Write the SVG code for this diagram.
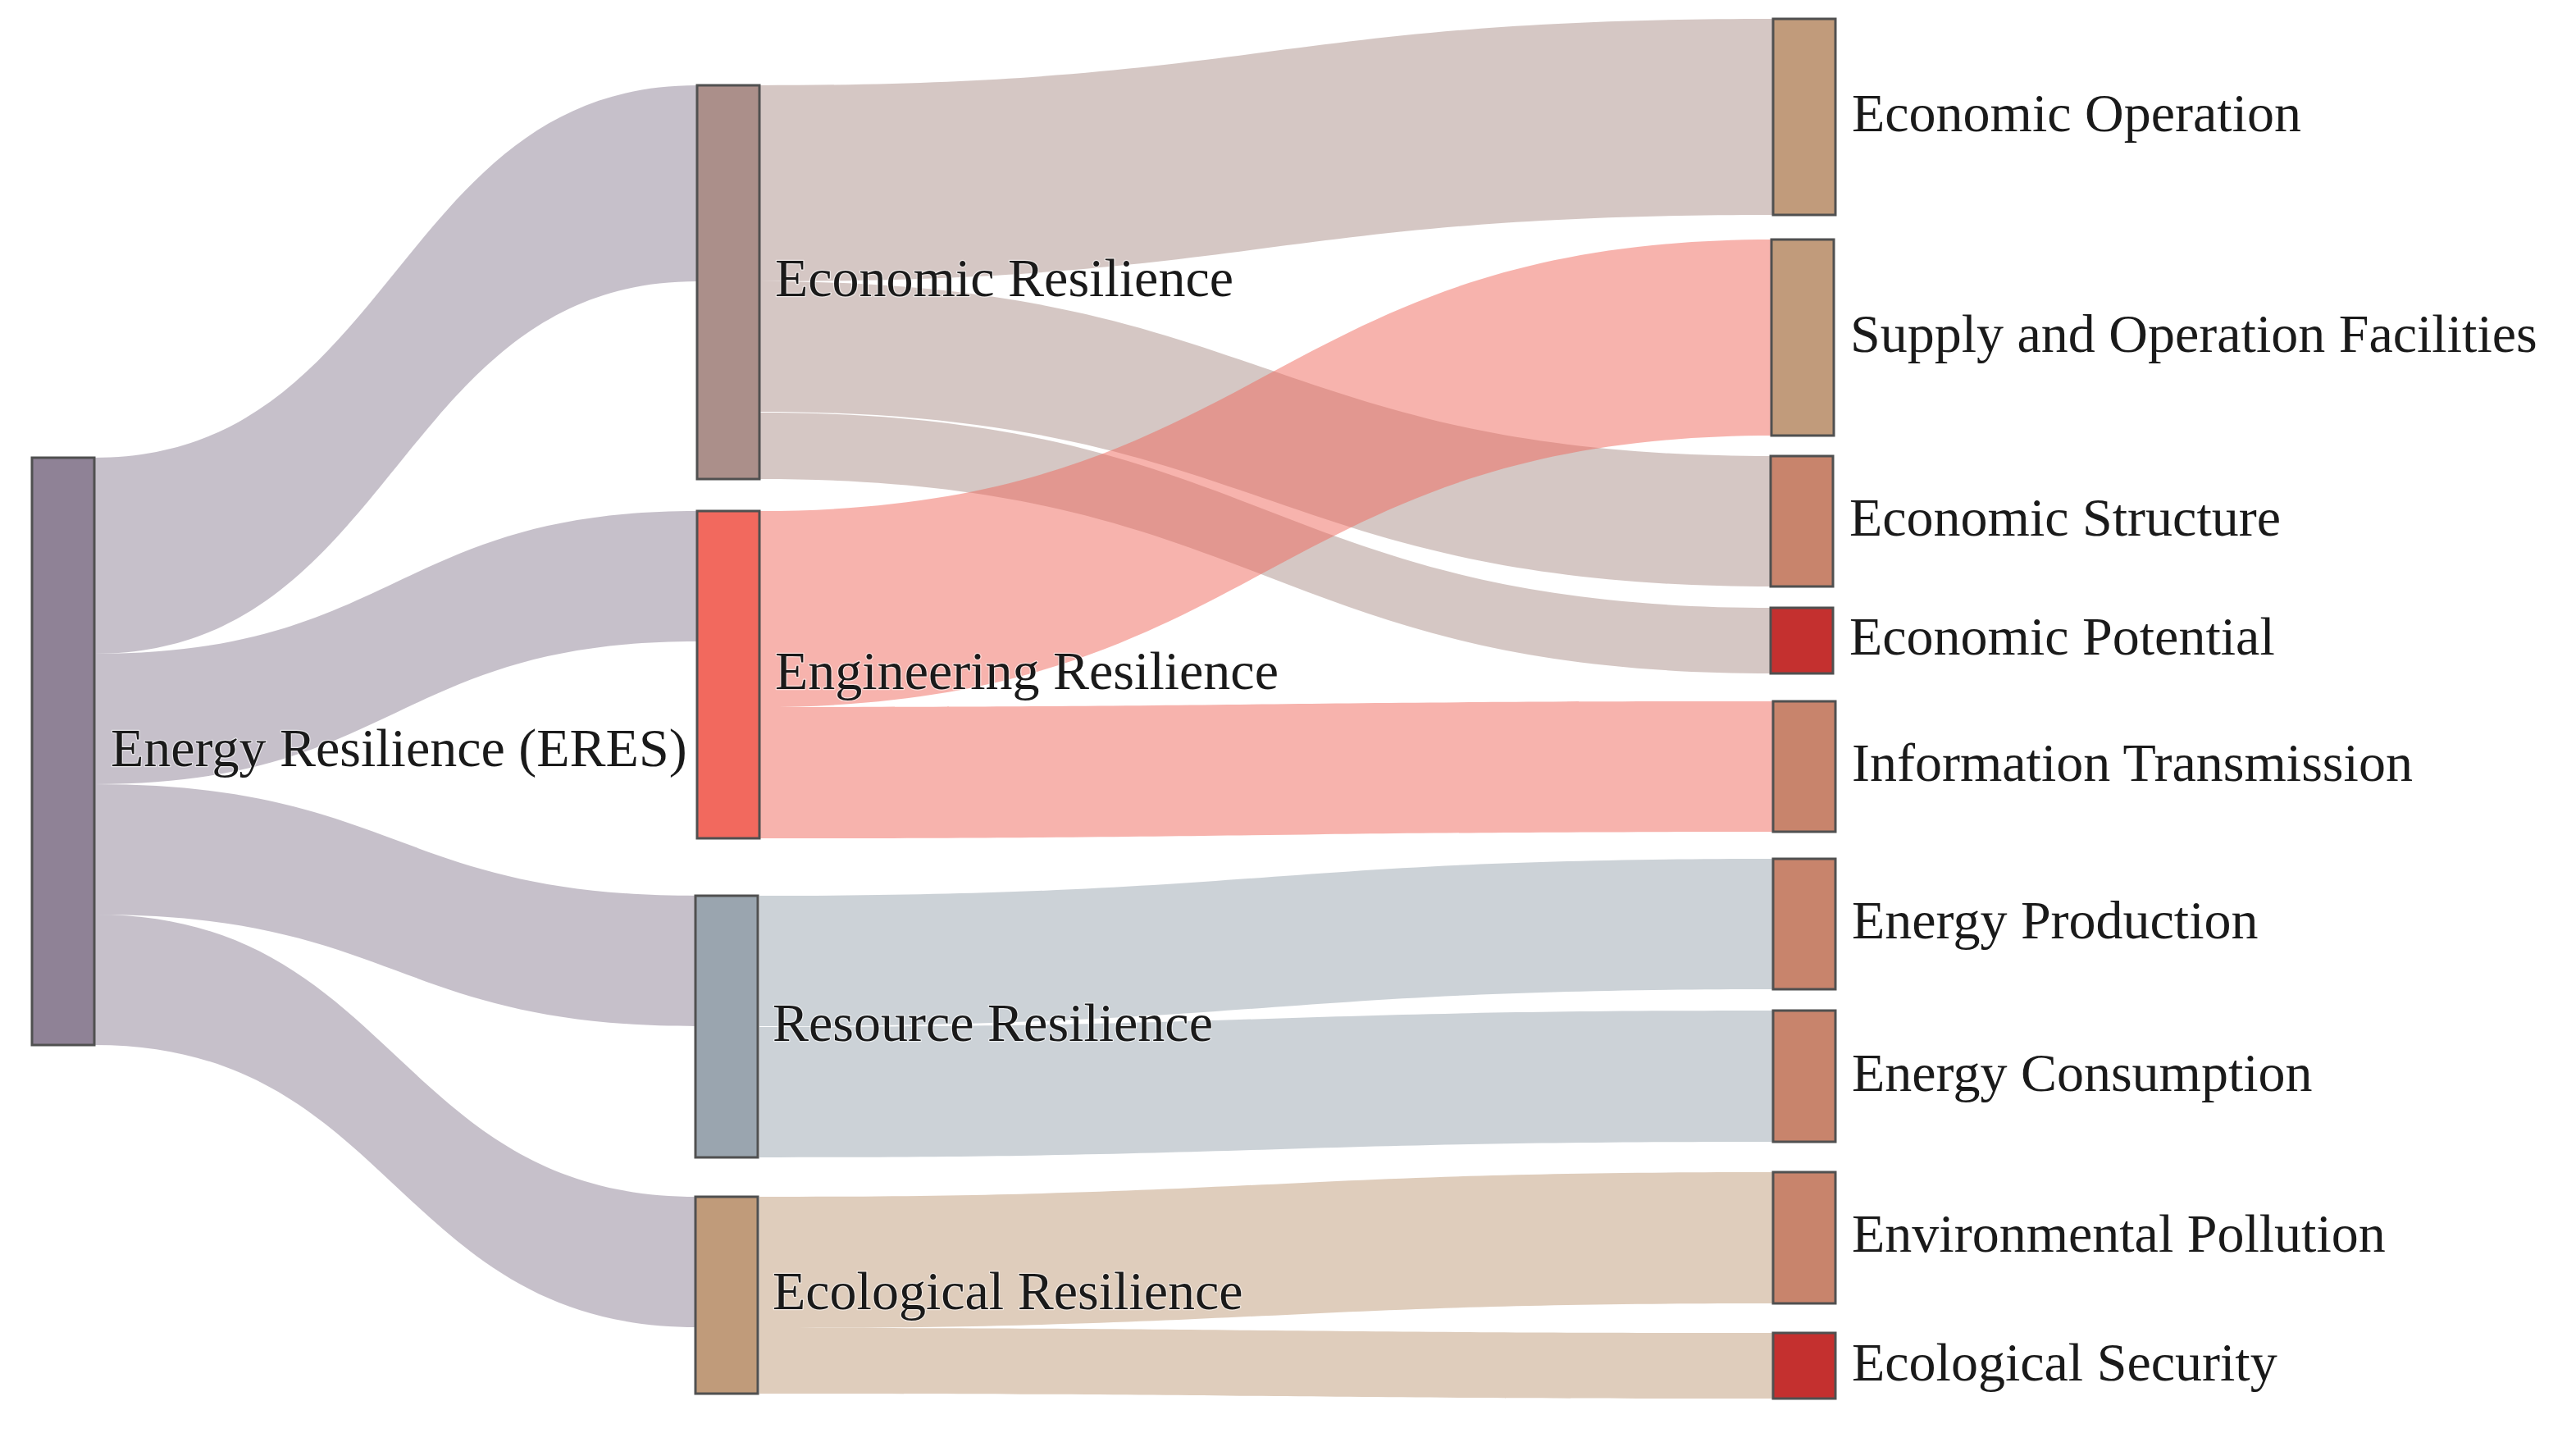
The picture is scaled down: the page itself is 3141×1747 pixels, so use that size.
<svg xmlns="http://www.w3.org/2000/svg" width="3141" height="1747" viewBox="0 0 3141 1747">
<style>
.node{stroke:#505050;stroke-width:3;}
.lk{fill-opacity:0.5;stroke:none;}
.lbl{font-family:"Liberation Serif","Times New Roman",serif;font-size:66px;fill:#1a1a1a;stroke:#ffffff;stroke-width:2.5;stroke-opacity:0.55;paint-order:stroke;stroke-linejoin:round;}
</style>
<rect width="3141" height="1747" fill="#ffffff"/>
<g id="connectors">
  <!-- ERES links -->
  <path class="lk" fill="#8e8295" d="M115,558 C482.5,558 482.5,104 850,104 L850,343 C482.5,343 482.5,797 115,797 Z"/>
  <path class="lk" fill="#8e8295" d="M115,797 C482.5,797 482.5,623 850,623 L850,782 C482.5,782 482.5,956 115,956 Z"/>
  <path class="lk" fill="#8e8295" d="M115,956 C482.5,956 482.5,1092 850,1092 L850,1251 C482.5,1251 482.5,1115 115,1115 Z"/>
  <path class="lk" fill="#8e8295" d="M115,1115 C482.5,1115 482.5,1459 850,1459 L850,1618 C482.5,1618 482.5,1274 115,1274 Z"/>
  <!-- Economic Resilience links -->
  <path class="lk" fill="#ab8f8a" d="M926,104 C1544,104 1544,23 2162,23 L2162,262 C1544,262 1544,343 926,343 Z"/>
  <path class="lk" fill="#ab8f8a" d="M926,343 C1544,343 1544,556 2162,556 L2162,715 C1544,715 1544,502 926,502 Z"/>
  <path class="lk" fill="#ab8f8a" d="M926,503 C1544,503 1544,741 2162,741 L2162,821 C1544,821 1544,584 926,584 Z"/>
  <!-- Engineering Resilience links -->
  <path class="lk" fill="#f0685c" d="M926,623 C1544,623 1544,292 2162,292 L2162,531 C1544,531 1544,862 926,862 Z"/>
  <path class="lk" fill="#f0685c" d="M926,862 C1544,862 1544,855 2162,855 L2162,1014 C1544,1014 1544,1022 926,1022 Z"/>
  <!-- Resource Resilience links -->
  <path class="lk" fill="#9aa5af" d="M926,1092 C1544,1092 1544,1047 2162,1047 L2162,1206 C1544,1206 1544,1251 926,1251 Z"/>
  <path class="lk" fill="#9aa5af" d="M926,1252 C1544,1252 1544,1232 2162,1232 L2162,1392 C1544,1392 1544,1411 926,1411 Z"/>
  <!-- Ecological Resilience links -->
  <path class="lk" fill="#c09b7a" d="M926,1459 C1544,1459 1544,1429 2162,1429 L2162,1589 C1544,1589 1544,1619 926,1619 Z"/>
  <path class="lk" fill="#c09b7a" d="M926,1619 C1544,1619 1544,1625 2162,1625 L2162,1705 C1544,1705 1544,1699 926,1699 Z"/>
</g>
<g id="node-eres">
  <rect class="node" x="39" y="558" width="76" height="716" fill="#8f8296"/>
  <text class="lbl" x="135" y="934">Energy Resilience (ERES)</text>
</g>
<g id="node-economic-resilience">
  <rect class="node" x="850" y="104" width="76" height="480" fill="#ab8f8a"/>
  <text class="lbl" x="945" y="361">Economic Resilience</text>
</g>
<g id="node-engineering-resilience">
  <rect class="node" x="850" y="623" width="76" height="399" fill="#f2695e"/>
  <text class="lbl" x="945" y="840">Engineering Resilience</text>
</g>
<g id="node-resource-resilience">
  <rect class="node" x="848" y="1092" width="76" height="319" fill="#9aa5af"/>
  <text class="lbl" x="942" y="1269">Resource Resilience</text>
</g>
<g id="node-ecological-resilience">
  <rect class="node" x="848" y="1459" width="76" height="240" fill="#c09b7a"/>
  <text class="lbl" x="942" y="1596">Ecological Resilience</text>
</g>
<g id="node-economic-operation">
  <rect class="node" x="2162" y="23" width="76" height="239" fill="#c19b7b"/>
  <text class="lbl" x="2258" y="160">Economic Operation</text>
</g>
<g id="node-supply-operation-facilities">
  <rect class="node" x="2160" y="292" width="76" height="239" fill="#c19b7b"/>
  <text class="lbl" x="2256" y="429">Supply and Operation Facilities</text>
</g>
<g id="node-economic-structure">
  <rect class="node" x="2159" y="556" width="76" height="159" fill="#c8846c"/>
  <text class="lbl" x="2255" y="653">Economic Structure</text>
</g>
<g id="node-economic-potential">
  <rect class="node" x="2159" y="741" width="76" height="80" fill="#c4302f"/>
  <text class="lbl" x="2255" y="798">Economic Potential</text>
</g>
<g id="node-information-transmission">
  <rect class="node" x="2162" y="855" width="76" height="159" fill="#c8846c"/>
  <text class="lbl" x="2258" y="952">Information Transmission</text>
</g>
<g id="node-energy-production">
  <rect class="node" x="2162" y="1047" width="76" height="159" fill="#c8846c"/>
  <text class="lbl" x="2258" y="1144">Energy Production</text>
</g>
<g id="node-energy-consumption">
  <rect class="node" x="2162" y="1232" width="76" height="160" fill="#c8846c"/>
  <text class="lbl" x="2258" y="1330">Energy Consumption</text>
</g>
<g id="node-environmental-pollution">
  <rect class="node" x="2162" y="1429" width="76" height="160" fill="#c8846c"/>
  <text class="lbl" x="2258" y="1526">Environmental Pollution</text>
</g>
<g id="node-ecological-security">
  <rect class="node" x="2162" y="1625" width="76" height="80" fill="#c4302f"/>
  <text class="lbl" x="2258" y="1683">Ecological Security</text>
</g>
</svg>
